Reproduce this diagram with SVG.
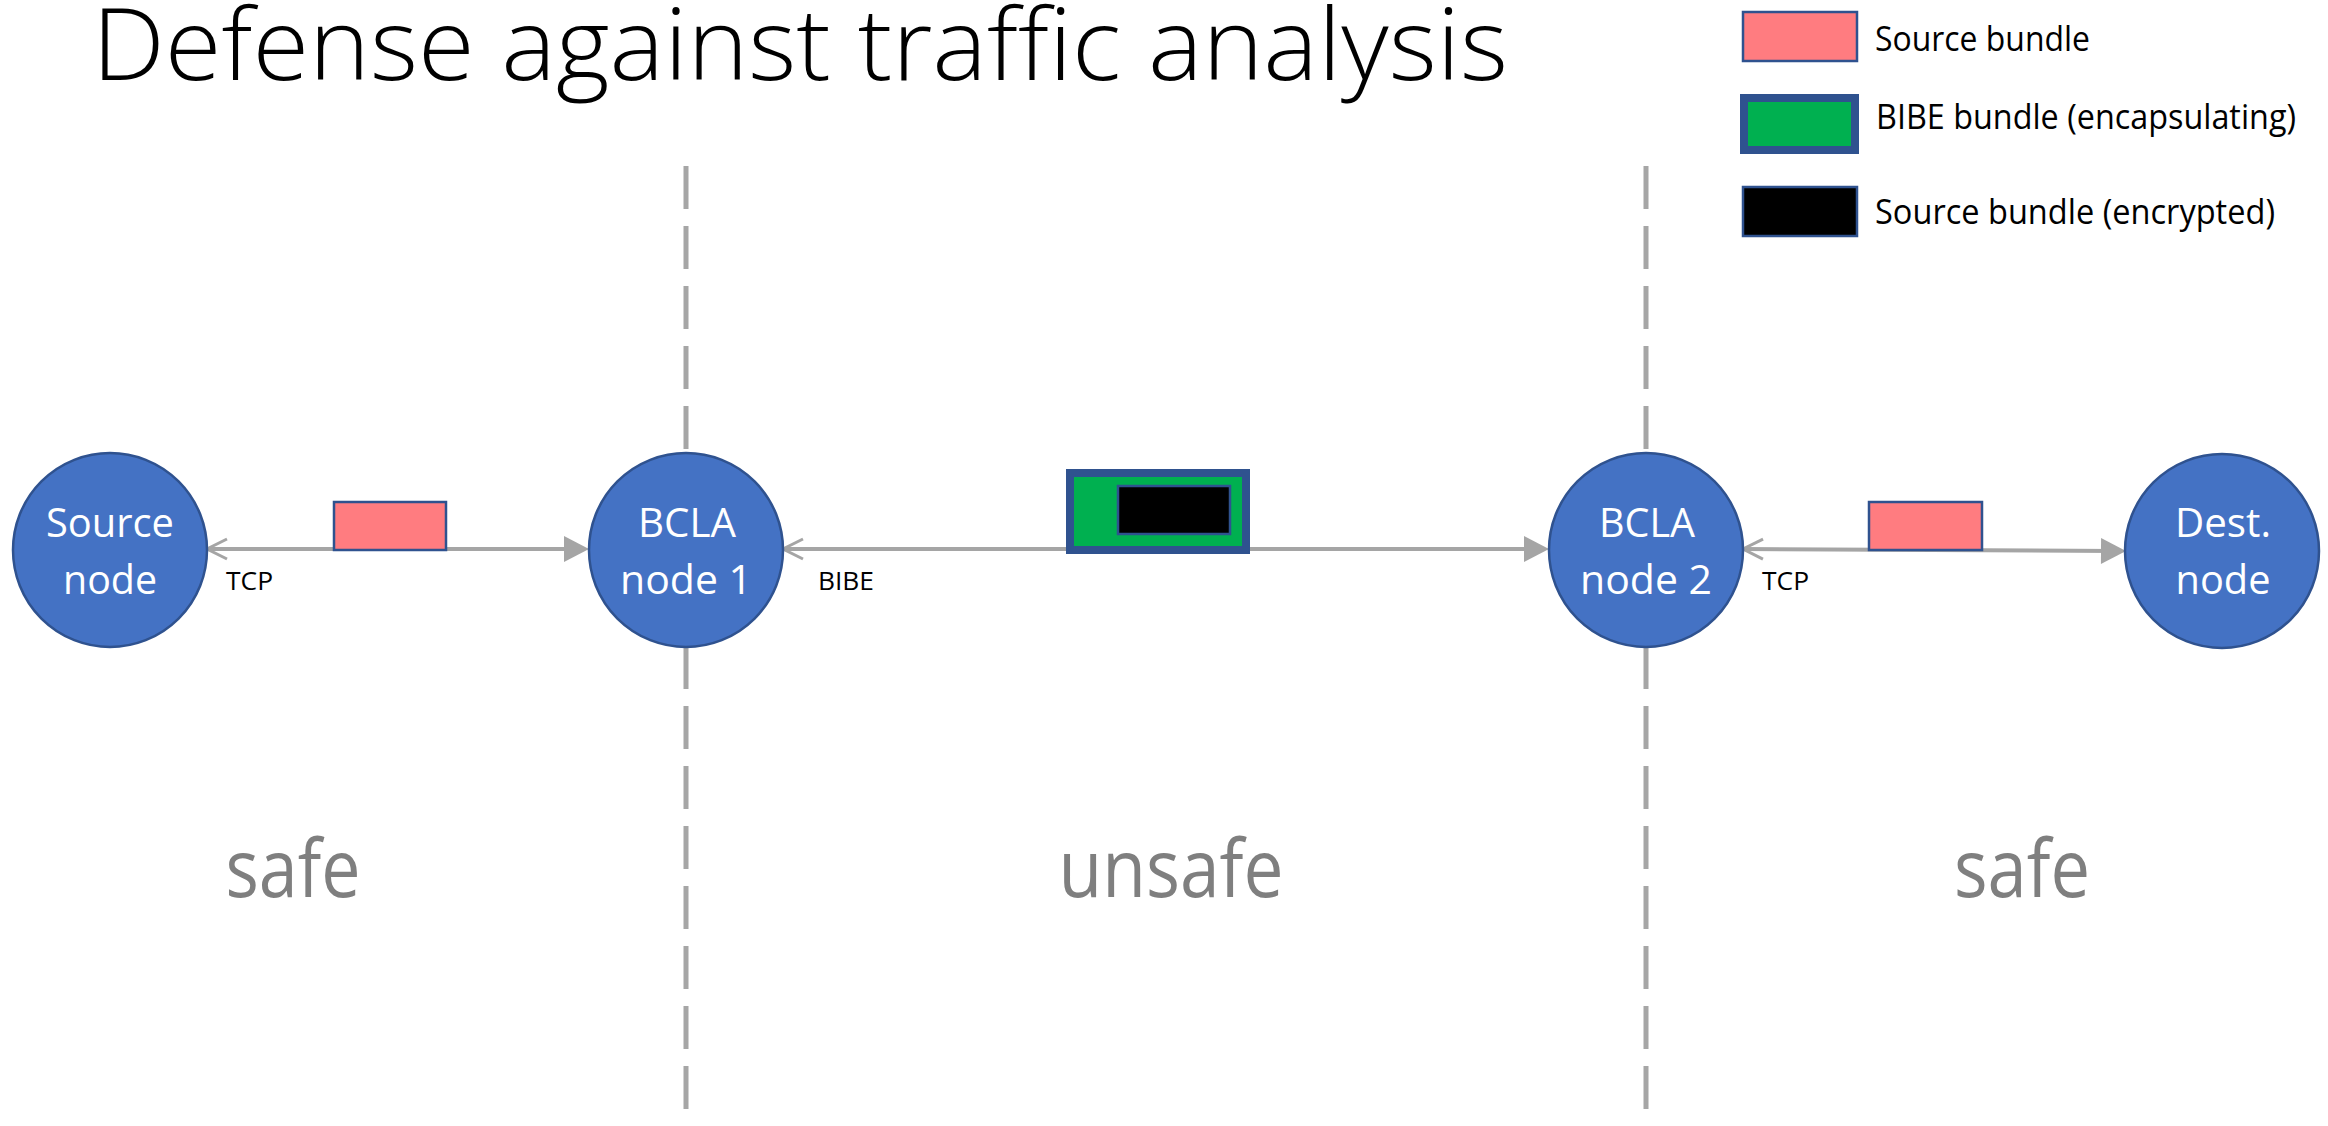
<svg xmlns="http://www.w3.org/2000/svg" width="2328" height="1126" viewBox="0 0 2328 1126">
<style>
  .bg { fill: #ffffff; }
  .title { font-family: "Open Sans", "Liberation Sans", sans-serif; font-weight: 300; font-size: 100px; fill: #000000; }
  .node circle { fill: #4472C4; stroke: #2F528F; stroke-width: 2.5; }
  .node text { font-family: "Open Sans", "Liberation Sans", sans-serif; font-size: 41px; fill: #ffffff; text-anchor: middle; }
  .proto { font-family: "Open Sans", "Liberation Sans", sans-serif; font-size: 26px; fill: #000000; }
  .legend text { font-family: "Open Sans", "Liberation Sans", sans-serif; font-size: 34px; fill: #000000; }
  .zone { font-family: "Open Sans", "Liberation Sans", sans-serif; font-size: 80px; fill: #7F7F7F; text-anchor: middle; }
  .divider { stroke: #A6A6A6; stroke-width: 5; stroke-dasharray: 43 17; fill: none; }
  .link { stroke: #A5A5A5; stroke-width: 4; fill: none; marker-start: url(#open); marker-end: url(#filled); }
  .src { fill: #FF7C80; stroke: #2F528F; stroke-width: 2.5; }
  .bibe { fill: #00B050; stroke: #2F528F; stroke-width: 8; }
  .enc { fill: #000000; stroke: #2F528F; stroke-width: 2.5; }
</style>
<defs>
  <marker id="filled" markerUnits="userSpaceOnUse" markerWidth="30" markerHeight="30" refX="15" refY="13" orient="auto" overflow="visible">
    <path d="M0,0 L25,13 L0,26 Z" fill="#A5A5A5"/>
  </marker>
  <marker id="open" markerUnits="userSpaceOnUse" markerWidth="30" markerHeight="30" refX="20" refY="10" orient="auto-start-reverse" overflow="visible">
    <path d="M0,0 L20,10 L0,20" fill="none" stroke="#A5A5A5" stroke-width="3"/>
  </marker>
</defs>
<rect class="bg" x="0" y="0" width="2328" height="1126"/>

<text class="title" x="92" y="80" textLength="1416" lengthAdjust="spacingAndGlyphs">Defense against traffic analysis</text>

<g id="dividers">
  <line class="divider" x1="686" y1="166" x2="686" y2="1126"/>
  <line class="divider" x1="1646" y1="166" x2="1646" y2="1126"/>
</g>

<g id="connectors">
  <line class="link" x1="207" y1="549" x2="579" y2="549"/>
  <line class="link" x1="783" y1="549" x2="1539" y2="549"/>
  <line class="link" x1="1743" y1="549" x2="2116" y2="551"/>
</g>

<g id="label-tcp-1"><text class="proto" x="226" y="590" textLength="47" lengthAdjust="spacingAndGlyphs">TCP</text></g>
<g id="label-bibe"><text class="proto" x="818" y="590" textLength="56" lengthAdjust="spacingAndGlyphs">BIBE</text></g>
<g id="label-tcp-2"><text class="proto" x="1762" y="590" textLength="47" lengthAdjust="spacingAndGlyphs">TCP</text></g>

<g id="bundle-source-1"><rect class="src" x="334" y="502" width="112" height="48"/></g>
<g id="bundle-bibe">
  <rect class="bibe" x="1070" y="473" width="176" height="77"/>
  <rect class="enc" x="1118" y="486" width="112" height="48"/>
</g>
<g id="bundle-source-2"><rect class="src" x="1869" y="502" width="113" height="48"/></g>

<g id="node-source" class="node">
  <circle cx="110" cy="550" r="97"/>
  <text x="110" y="537" textLength="128" lengthAdjust="spacingAndGlyphs">Source</text>
  <text x="110" y="594" textLength="94" lengthAdjust="spacingAndGlyphs">node</text>
</g>
<g id="node-bcla1" class="node">
  <circle cx="686" cy="550" r="97"/>
  <text x="687" y="537" textLength="98" lengthAdjust="spacingAndGlyphs">BCLA</text>
  <text x="686" y="594" textLength="132" lengthAdjust="spacingAndGlyphs">node 1</text>
</g>
<g id="node-bcla2" class="node">
  <circle cx="1646" cy="550" r="97"/>
  <text x="1647" y="537" textLength="96" lengthAdjust="spacingAndGlyphs">BCLA</text>
  <text x="1646" y="594" textLength="132" lengthAdjust="spacingAndGlyphs">node 2</text>
</g>
<g id="node-dest" class="node">
  <circle cx="2222" cy="551" r="97"/>
  <text x="2223" y="537" textLength="96" lengthAdjust="spacingAndGlyphs">Dest.</text>
  <text x="2223" y="594" textLength="95" lengthAdjust="spacingAndGlyphs">node</text>
</g>

<g id="zones">
  <text class="zone" x="293" y="897" textLength="135" lengthAdjust="spacingAndGlyphs">safe</text>
  <text class="zone" x="1171" y="897" textLength="225" lengthAdjust="spacingAndGlyphs">unsafe</text>
  <text class="zone" x="2022" y="897" textLength="136" lengthAdjust="spacingAndGlyphs">safe</text>
</g>

<g id="legend" class="legend">
  <g id="legend-source">
    <rect class="src" x="1743" y="12" width="114" height="49"/>
    <text x="1875" y="51" textLength="215" lengthAdjust="spacingAndGlyphs">Source bundle</text>
  </g>
  <g id="legend-bibe">
    <rect class="bibe" x="1744" y="98" width="111" height="52"/>
    <text x="1876" y="129" textLength="420" lengthAdjust="spacingAndGlyphs">BIBE bundle (encapsulating)</text>
  </g>
  <g id="legend-encrypted">
    <rect class="enc" x="1743" y="187" width="114" height="49"/>
    <text x="1875" y="224" textLength="400" lengthAdjust="spacingAndGlyphs">Source bundle (encrypted)</text>
  </g>
</g>
</svg>
